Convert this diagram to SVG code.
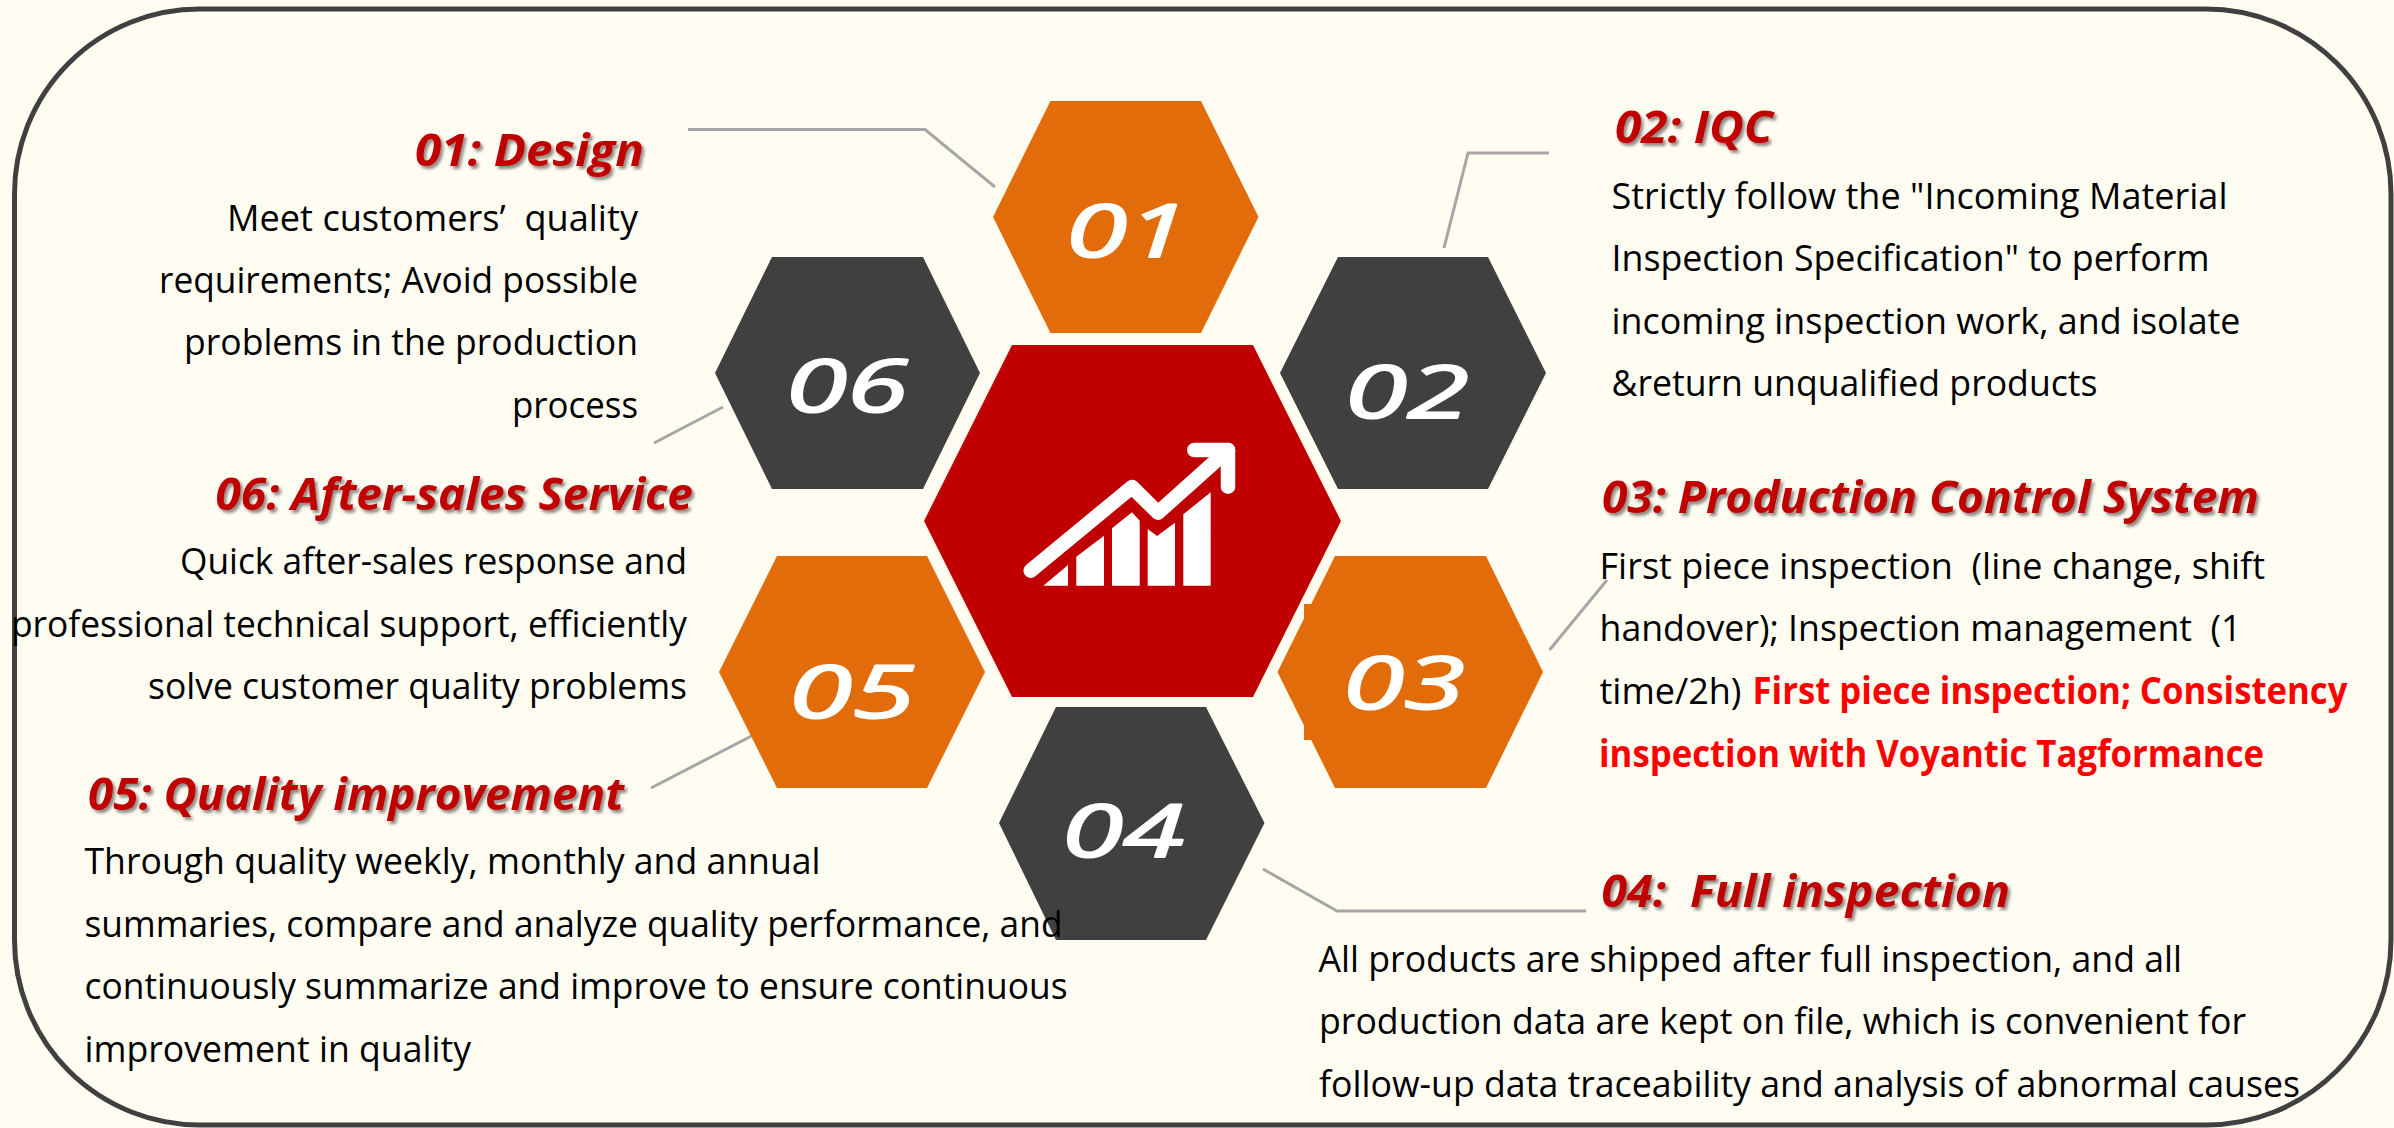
<svg xmlns="http://www.w3.org/2000/svg" width="2394" height="1128" viewBox="0 0 2394 1128">
<style>
.o{fill:#E36C0A}.d{fill:#404040}.r{fill:#C00000}
.n{font-family:"Open Sans","Noto Sans","Liberation Sans",sans-serif;font-style:italic;font-size:74px;fill:#fff;stroke:#fff;stroke-width:2;stroke-linejoin:round}
.h{font-family:"Open Sans","Noto Sans","Liberation Sans",sans-serif;font-style:italic;font-weight:700;font-size:44px;fill:#C00000;filter:url(#sh)}
.b{font-family:"Open Sans","Noto Sans","Liberation Sans",sans-serif;font-size:37px;fill:#000}
.e{font-family:"Open Sans","Noto Sans","Liberation Sans",sans-serif;font-size:37px;font-weight:700;fill:#FF0000}
#connectors path{fill:none;stroke:#A6A6A6;stroke-width:3}
</style>
<defs><filter id="sh" x="-5%" y="-20%" width="110%" height="150%"><feDropShadow dx="2.5" dy="3" stdDeviation="1.6" flood-color="#000" flood-opacity=".45"/></filter></defs>
<rect id="background" width="2394" height="1128" fill="#FFFDF2"/>
<g id="connectors">
<path d="M688 129.500H925L995 187"/>
<path d="M1444 248L1468 153H1549"/>
<path d="M1607 580L1549.500 650"/>
<path d="M1263 869L1337 911H1586"/>
<path d="M751.500 736L651 788"/>
<path d="M723 407L654 443"/>
</g>
<g id="node-center">
<polygon class="r" points="924,521 1012,345 1253,345 1341,521 1253,697 1012,697"/>
<g id="icon">
<path d="M1030.700 570.700L1132 487L1158 512.700L1228 450" fill="none" stroke="#fff" stroke-width="14.500" stroke-linecap="round" stroke-linejoin="round"/>
<path d="M1194.300 450H1228V486.700" fill="none" stroke="#fff" stroke-width="14.500" stroke-linecap="round" stroke-linejoin="round"/>
<path fill="#fff" d="M1043.300 585.700L1068 565V585.700ZM1076.300 556.700L1104 535.700V585.700H1076.300ZM1112 528.300L1132 512.300L1139.700 520.700V585.700H1112ZM1147.700 529L1157 536L1175 522.700V585.700H1147.700ZM1183.300 514.300L1210.700 492.300V585.700H1183.300Z"/>
</g>
</g>
<g id="node-01"><polygon class="o" points="993,217 1050.500,101 1201,101 1258.500,217 1201,333 1050.500,333"/><text class="n" x="1066" y="257" textLength="122" lengthAdjust="spacingAndGlyphs">01</text></g>
<g id="node-02"><polygon class="d" points="1280,373 1338,257 1488,257 1546,373 1488,489 1338,489"/><text class="n" x="1345" y="418" textLength="124" lengthAdjust="spacingAndGlyphs">02</text></g>
<g id="node-03"><rect class="o" x="1304" y="604" width="100" height="136"/><polygon class="o" points="1277.500,672 1335,556 1486,556 1543,672 1486,788 1335,788"/><text class="n" x="1343" y="709" textLength="122" lengthAdjust="spacingAndGlyphs">03</text></g>
<g id="node-04"><polygon class="d" points="999,823 1056,707 1206,707 1264.500,823 1206,940 1056,940"/><text class="n" x="1062" y="857" textLength="122" lengthAdjust="spacingAndGlyphs">04</text></g>
<g id="node-05"><polygon class="o" points="719,672 777,556 927,556 985,672 927,788 777,788"/><text class="n" x="789" y="718" textLength="126" lengthAdjust="spacingAndGlyphs">05</text></g>
<g id="node-06"><polygon class="d" points="715,373 772,257 923,257 980,373 923,489 772,489"/><text class="n" x="786" y="412" textLength="122" lengthAdjust="spacingAndGlyphs">06</text></g>
<rect id="frame" x="14.500" y="9" width="2376.500" height="1116" rx="185" ry="185" fill="none" stroke="#404040" stroke-width="5"/>
<g id="label-01">
<text class="h" x="415" y="166" textLength="229" lengthAdjust="spacingAndGlyphs">01: Design</text>
<text class="b" xml:space="preserve" x="227" y="231" textLength="411" lengthAdjust="spacingAndGlyphs">Meet customers’  quality</text>
<text class="b" x="159" y="293" textLength="479" lengthAdjust="spacingAndGlyphs">requirements; Avoid possible</text>
<text class="b" x="184" y="355" textLength="454" lengthAdjust="spacingAndGlyphs">problems in the production</text>
<text class="b" x="512" y="418" textLength="126" lengthAdjust="spacingAndGlyphs">process</text>
</g>
<g id="label-02">
<text class="h" x="1615" y="143" textLength="158" lengthAdjust="spacingAndGlyphs">02: IQC</text>
<text class="b" x="1611.500" y="209" textLength="616" lengthAdjust="spacingAndGlyphs">Strictly follow the "Incoming Material</text>
<text class="b" x="1611.500" y="271" textLength="598" lengthAdjust="spacingAndGlyphs">Inspection Specification" to perform</text>
<text class="b" x="1611.500" y="334" textLength="629" lengthAdjust="spacingAndGlyphs">incoming inspection work, and isolate</text>
<text class="b" x="1611.500" y="396" textLength="486" lengthAdjust="spacingAndGlyphs">&amp;return unqualified products</text>
</g>
<g id="label-03">
<text class="h" x="1602" y="513" textLength="657" lengthAdjust="spacingAndGlyphs">03: Production Control System</text>
<text class="b" xml:space="preserve" x="1599.500" y="579" textLength="665.500" lengthAdjust="spacingAndGlyphs">First piece inspection  (line change, shift</text>
<text class="b" xml:space="preserve" x="1599.500" y="641" textLength="642" lengthAdjust="spacingAndGlyphs">handover); Inspection management  (1</text>
<text class="b" x="1599.500" y="703.500" textLength="142" lengthAdjust="spacingAndGlyphs">time/2h)</text>
<text class="e" x="1752.500" y="703.500" textLength="595" lengthAdjust="spacingAndGlyphs">First piece inspection; Consistency</text>
<text class="e" x="1599" y="767" textLength="665" lengthAdjust="spacingAndGlyphs">inspection with Voyantic Tagformance</text>
</g>
<g id="label-04">
<text class="h" xml:space="preserve" x="1601.500" y="907" textLength="408.500" lengthAdjust="spacingAndGlyphs">04:  Full inspection</text>
<text class="b" x="1318.500" y="972" textLength="863.500" lengthAdjust="spacingAndGlyphs">All products are shipped after full inspection, and all</text>
<text class="b" x="1319" y="1034" textLength="927" lengthAdjust="spacingAndGlyphs">production data are kept on file, which is convenient for</text>
<text class="b" x="1319" y="1097" textLength="981" lengthAdjust="spacingAndGlyphs">follow-up data traceability and analysis of abnormal causes</text>
</g>
<g id="label-05">
<text class="h" x="88" y="810" textLength="536" lengthAdjust="spacingAndGlyphs">05: Quality improvement</text>
<text class="b" x="84.500" y="874" textLength="736" lengthAdjust="spacingAndGlyphs">Through quality weekly, monthly and annual</text>
<text class="b" x="84.500" y="937" textLength="978" lengthAdjust="spacingAndGlyphs">summaries, compare and analyze quality performance, and</text>
<text class="b" x="84.500" y="999" textLength="983" lengthAdjust="spacingAndGlyphs">continuously summarize and improve to ensure continuous</text>
<text class="b" x="84.500" y="1062" textLength="386.500" lengthAdjust="spacingAndGlyphs">improvement in quality</text>
</g>
<g id="label-06">
<text class="h" x="215.500" y="509.500" textLength="477.500" lengthAdjust="spacingAndGlyphs">06: After-sales Service</text>
<text class="b" x="180" y="574" textLength="507" lengthAdjust="spacingAndGlyphs">Quick after-sales response and</text>
<text class="b" x="11" y="637" textLength="676" lengthAdjust="spacingAndGlyphs">professional technical support, efficiently</text>
<text class="b" x="148" y="699" textLength="539" lengthAdjust="spacingAndGlyphs">solve customer quality problems</text>
</g>
</svg>
